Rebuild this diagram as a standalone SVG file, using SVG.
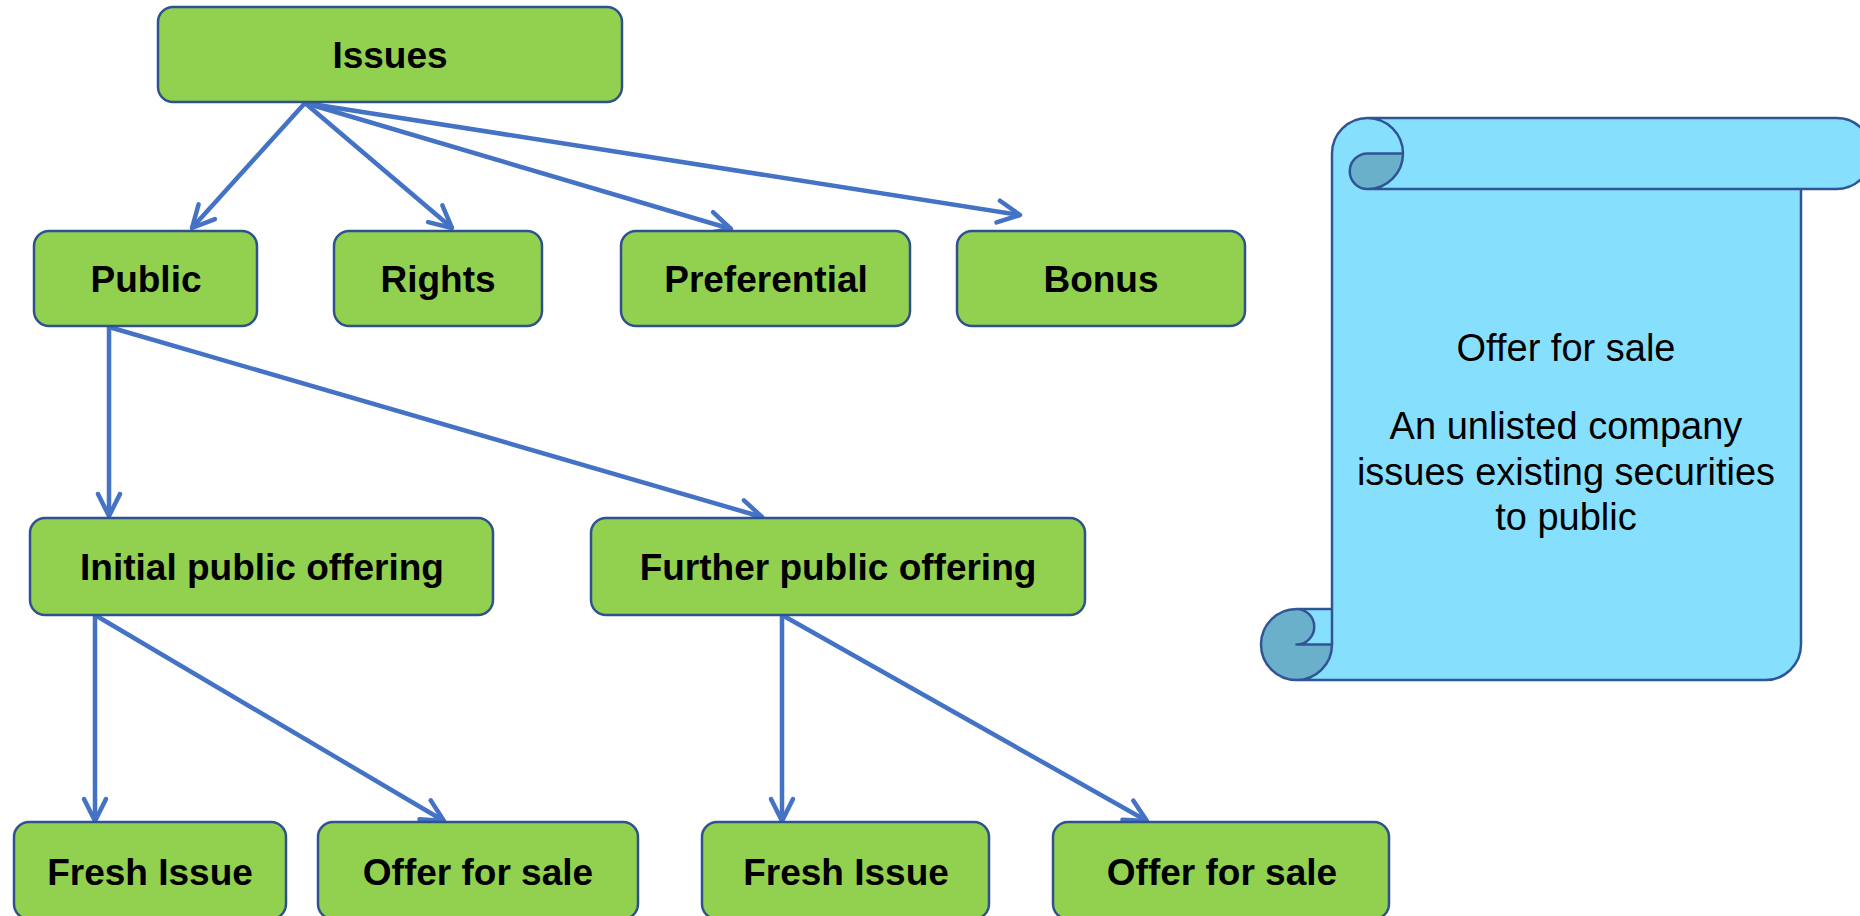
<svg xmlns="http://www.w3.org/2000/svg" width="1860" height="916" viewBox="0 0 1860 916">
<style>
.box{fill:#92D050;stroke:#2F528F;stroke-width:2.5}
.lbl{font-family:"Liberation Sans",Arial,sans-serif;font-weight:bold;font-size:37px;fill:#000;text-anchor:middle}
.conn{stroke:#4472C4;stroke-width:4.5;fill:none;marker-end:url(#arr)}
.scrollfill{fill:#87DFFE;stroke:none}
.scrolldark{fill:#6AB0CB;stroke:none}
.scrollline{fill:none;stroke:#2F5597;stroke-width:2.5;stroke-linejoin:round}
.note{font-family:"Liberation Sans",Arial,sans-serif;font-size:38px;fill:#000;text-anchor:middle}
</style>
<defs>
<marker id="arr" markerUnits="userSpaceOnUse" markerWidth="40" markerHeight="40" viewBox="-30 -20 40 40" refX="0" refY="0" orient="auto" overflow="visible">
<path d="M -22,-11 L 0,0 L -22,11" fill="none" stroke="#4472C4" stroke-width="4.5" stroke-linecap="round" stroke-linejoin="round"/>
</marker>
</defs>
<rect width="1860" height="916" fill="#fff"/>
<g id="connectors">
<line class="conn" x1="305" y1="103" x2="192" y2="228"/>
<line class="conn" x1="305" y1="103" x2="452" y2="228"/>
<line class="conn" x1="305" y1="103" x2="731" y2="229"/>
<line class="conn" x1="305" y1="103" x2="1020" y2="215"/>
<line class="conn" x1="109" y1="327" x2="109" y2="516"/>
<line class="conn" x1="109" y1="327" x2="762" y2="517"/>
<line class="conn" x1="95" y1="615" x2="95" y2="821"/>
<line class="conn" x1="95" y1="615" x2="444" y2="821"/>
<line class="conn" x1="782" y1="615" x2="782" y2="821"/>
<line class="conn" x1="782" y1="615" x2="1147" y2="821"/>
</g>
<g id="n-issues"><rect class="box" x="158" y="7" width="464" height="95" rx="15"/><text class="lbl" x="390" y="68">Issues</text></g>
<g id="n-public"><rect class="box" x="34" y="231" width="223" height="95" rx="15"/><text class="lbl" x="146" y="292">Public</text></g>
<g id="n-rights"><rect class="box" x="334" y="231" width="208" height="95" rx="15"/><text class="lbl" x="438" y="292">Rights</text></g>
<g id="n-preferential"><rect class="box" x="621" y="231" width="289" height="95" rx="15"/><text class="lbl" x="766" y="292">Preferential</text></g>
<g id="n-bonus"><rect class="box" x="957" y="231" width="288" height="95" rx="15"/><text class="lbl" x="1101" y="292">Bonus</text></g>
<g id="n-ipo"><rect class="box" x="30" y="518" width="463" height="97" rx="15"/><text class="lbl" x="262" y="580">Initial public offering</text></g>
<g id="n-fpo"><rect class="box" x="591" y="518" width="494" height="97" rx="15"/><text class="lbl" x="838" y="580">Further public offering</text></g>
<g id="n-fresh1"><rect class="box" x="14" y="822" width="272" height="97" rx="15"/><text class="lbl" x="150" y="885">Fresh Issue</text></g>
<g id="n-offer1"><rect class="box" x="318" y="822" width="320" height="97" rx="15"/><text class="lbl" x="478" y="885">Offer for sale</text></g>
<g id="n-fresh2"><rect class="box" x="702" y="822" width="287" height="97" rx="15"/><text class="lbl" x="846" y="885">Fresh Issue</text></g>
<g id="n-offer2"><rect class="box" x="1053" y="822" width="336" height="97" rx="15"/><text class="lbl" x="1222" y="885">Offer for sale</text></g>
<g id="n-scroll">
<path class="scrollfill" d="M 1296.5,680 A 35.5,35.5 0 0 0 1332,644.5 L 1296.5,644.5 A 17.75,17.75 0 0 1 1296.5,609 L 1332,609 L 1332,153.5 A 35.5,35.5 0 0 1 1367.5,118 L 1836.5,118 A 35.5,35.5 0 0 1 1836.5,189 L 1801,189 L 1801,644.5 A 35.5,35.5 0 0 1 1765.5,680 Z"/>
<path class="scrolldark" d="M 1403,153.5 A 35.5,35.5 0 0 1 1367.5,189 A 17.75,17.75 0 0 1 1367.5,153.5 Z M 1332,644.5 A 35.5,35.5 0 1 1 1296.5,609 A 17.75,17.75 0 0 1 1296.5,644.5 Z"/>
<path class="scrollline" d="M 1332,609 L 1332,153.5 A 35.5,35.5 0 0 1 1367.5,118 L 1836.5,118 A 35.5,35.5 0 0 1 1836.5,189 L 1801,189 L 1801,644.5 A 35.5,35.5 0 0 1 1765.5,680 L 1296.5,680 A 35.5,35.5 0 0 1 1296.5,609 Z M 1367.5,118 A 35.5,35.5 0 0 1 1367.5,189 A 17.75,17.75 0 0 1 1367.5,153.5 L 1403,153.5 M 1801,189 L 1367.5,189 M 1296.5,609 A 17.75,17.75 0 0 1 1296.5,644.5 L 1332,644.5 M 1296.5,680 A 35.5,35.5 0 0 0 1332,644.5 L 1332,609"/>
<text class="note" x="1566" y="361">Offer for sale</text>
<text class="note" x="1566" y="439">An unlisted company</text>
<text class="note" x="1566" y="485">issues existing securities</text>
<text class="note" x="1566" y="530">to public</text>
</g>
</svg>
